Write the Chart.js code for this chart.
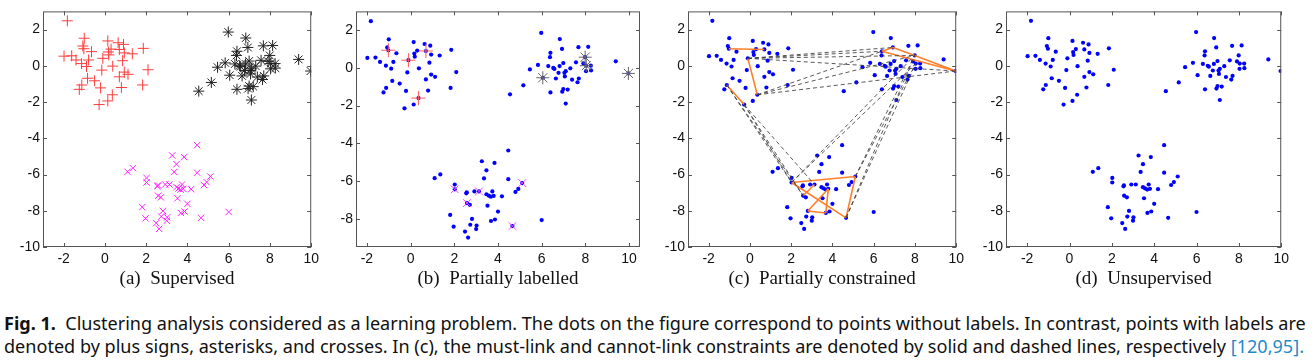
<!DOCTYPE html>
<html>
<head>
<meta charset="utf-8">
<script src="https://cdn.jsdelivr.net/npm/chart.js@4.4.0/dist/chart.umd.min.js"></script>
<style>
  body { margin: 0; background: #fff; width: 1314px; height: 363px; overflow: hidden; position: relative; }
  .panel { position: absolute; top: 0; height: 292px; }
  .cap { position: absolute; left: 4px; white-space: nowrap; font-family: 'Noto Sans', sans-serif; font-size: 17.5px; line-height: 22px; color: #111; transform-origin: 0 0; }
  .cap b { font-weight: 700; }
  .ref { color: #1f8ac8; }
</style>
</head>
<body>
<div class="panel" style="left:0;width:323px"><canvas id="chartA"></canvas></div>
<div class="panel" style="left:320px;width:330px"><canvas id="chartB"></canvas></div>
<div class="panel" style="left:650px;width:318px"><canvas id="chartC"></canvas></div>
<div class="panel" style="left:970px;width:323px"><canvas id="chartD"></canvas></div>
<div class="cap" id="line1" style="top:312px"><b>Fig. 1.</b>&nbsp; Clustering analysis considered as a learning problem. The dots on the figure correspond to points without labels. In contrast, points with labels are</div>
<div class="cap" id="line2" style="top:335px">denoted by plus signs, asterisks, and crosses. In (c), the must-link and cannot-link constraints are denoted by solid and dashed lines, respectively <span class="ref">[120,95].</span></div>
<script>
// cluster 1 (plus signs in a)
const c1x = [-1.82, -1.00, 0.14, 0.64, 0.90, -1.07, -1.02, 0.30, 0.70, 1.86, -0.65, 0.17, 0.94, 1.33, 0.19, -1.98, -1.61, -0.10, -1.40, -0.79,
             0.86, -1.13, -0.89, 0.38, -0.15, 2.09, 0.94, 1.12, 0.70, -0.84, -0.50, 1.83, -1.12, -1.24, -0.21, 0.80, 0.36, 0.14, -0.28];
const c1y = [2.48, 1.52, 1.37, 1.27, 1.18, 1.09, 0.94, 0.92, 0.90, 0.96, 0.78, 0.76, 0.71, 0.66, 0.60, 0.53, 0.55, 0.41, 0.32, 0.32,
             0.28, 0.12, -0.04, -0.02, -0.24, -0.22, -0.35, -0.47, -0.61, -0.69, -0.83, -1.06, -1.06, -1.30, -1.22, -1.20, -1.60, -1.94, -2.14];
// cluster 2 (asterisks in a)
const c2x = [5.98, 6.83, 6.93, 7.68, 8.13, 6.40, 6.38, 7.99, 9.39, 7.57, 5.83, 6.99, 7.91, 8.04, 8.25, 6.30, 6.82, 5.46, 6.53, 6.58,
             7.31, 8.26, 8.03, 7.10, 7.04, 6.77, 5.16, 7.70, 7.39, 6.65, 7.06, 7.64, 9.97, 4.55, 6.40, 6.99, 7.19, 6.94, 7.10, 6.05];
const c2y = [1.86, 1.53, 1.01, 1.10, 1.12, 0.80, 0.57, 0.57, 0.35, 0.30, 0.16, 0.26, 0.24, 0.12, 0.12, 0.10, 0.10, -0.08, 0.00, -0.05,
             -0.02, -0.13, -0.17, -0.17, -0.26, -0.26, -0.92, -0.56, -0.62, -0.56, -0.45, -0.76, -0.29, -1.40, -1.30, -1.12, -1.15, -1.26, -1.89, -0.52];
// cluster 3 (crosses in a)
const c3x = [4.47, 3.26, 3.84, 3.47, 1.36, 1.10, 3.36, 4.47, 5.11, 2.02, 2.02, 4.93, 4.80, 2.57, 2.55, 2.92, 3.13, 3.74, 3.47, 3.57,
             3.67, 3.80, 4.18, 2.58, 2.71, 3.52, 4.00, 1.81, 2.81, 3.86, 3.68, 6.00, 2.73, 3.02, 4.66, 1.97, 3.00, 2.49, 2.63];
const c3y = [-4.38, -4.95, -5.04, -5.43, -5.65, -5.85, -5.86, -5.90, -6.11, -6.19, -6.44, -6.42, -6.58, -6.60, -6.65, -6.55, -6.55, -6.55, -6.70, -6.77,
             -6.83, -6.79, -6.81, -7.17, -7.26, -7.31, -7.62, -7.80, -8.01, -8.04, -8.12, -8.07, -8.32, -8.36, -8.39, -8.42, -8.55, -8.68, -9.00];

// labelled points in (b), as indices into each cluster
const labelled1 = [6, 8, 17, 36];
const labelled2 = [39, 7, 13, 32];
const labelled3 = [10, 16, 23, 8, 34];

// constraints in (c): [cluster, index, cluster, index]
const mustLinks = [
  [1, 6, 1, 8], [1, 17, 1, 36], [1, 32, 1, 38],
  [2, 5, 2, 2], [2, 2, 2, 7], [2, 7, 2, 32], [2, 5, 2, 32],
  [3, 10, 3, 8], [3, 8, 3, 34], [3, 10, 3, 34], [3, 21, 3, 28], [3, 28, 3, 30], [3, 30, 3, 21], [3, 16, 3, 23]
];
const cannotLinks = [
  [1, 17, 2, 5], [1, 17, 2, 2], [1, 17, 2, 7], [1, 17, 2, 32],
  [1, 36, 2, 5], [1, 36, 2, 7], [1, 36, 2, 32],
  [1, 32, 3, 10], [1, 32, 3, 23], [1, 38, 3, 10], [1, 38, 3, 16], [1, 38, 3, 23],
  [3, 10, 2, 7], [3, 10, 2, 13], [3, 8, 2, 7], [3, 8, 2, 13], [3, 34, 2, 7], [3, 34, 2, 13]
];

const xTicks  = [-2, 0, 2, 4, 6, 8, 10];
const yTicks  = [2, 0, -2, -4, -6, -8, -10];
const yTicksB = [2, 0, -2, -4, -6, -8];
const captions = ['(a)  Supervised', '(b)  Partially labelled', '(c)  Partially constrained', '(d)  Unsupervised'];

const XS = [null, c1x, c2x, c3x];
const YS = [null, c1y, c2y, c3y];
const pt = (c, i) => ({ x: XS[c][i], y: YS[c][i] });
const cluster = c => XS[c].map((x, i) => pt(c, i));
const allPoints = () => [1, 2, 3].flatMap(cluster);

// unlabelled dots sit underneath everything else (higher order = drawn first)
const dots = () => ({
  data: allPoints(), pointStyle: 'circle', pointRadius: 2.1, order: 10,
  backgroundColor: '#0000ff', borderWidth: 0, pointBorderWidth: 0
});
const markers = (data, style, color, r, w) => ({
  data, pointStyle: style, pointRadius: r, borderColor: color, order: 1,
  backgroundColor: color, pointBorderWidth: w || 1
});

// MATLAB style box with inward ticks
const boxPlugin = {
  id: 'box',
  afterDraw(chart) {
    const { ctx, chartArea: a, scales: { x, y } } = chart;
    const seg = (x1, y1, x2, y2) => { ctx.beginPath(); ctx.moveTo(x1, y1); ctx.lineTo(x2, y2); ctx.stroke(); };
    ctx.save();
    ctx.strokeStyle = '#555';
    ctx.lineWidth = 1;
    ctx.strokeRect(a.left + 0.5, a.top + 0.5, a.right - a.left - 1, a.bottom - a.top - 1);
    x.ticks.forEach(t => {
      const p = Math.round(x.getPixelForValue(t.value)) + 0.5;
      seg(p, a.bottom, p, a.bottom - 4);
      seg(p, a.top, p, a.top + 4);
    });
    y.ticks.forEach(t => {
      const p = Math.round(y.getPixelForValue(t.value)) + 0.5;
      seg(a.left, p, a.left + 4, p);
      seg(a.right, p, a.right - 4, p);
    });
    ctx.restore();
  }
};

function makePanel(id, datasets, opts) {
  return new Chart(document.getElementById(id), {
    type: 'scatter',
    data: { datasets },
    options: {
      responsive: true,
      maintainAspectRatio: false,
      animation: false,
      layout: { padding: { top: 5, right: opts.right, left: 0, bottom: 0 } },
      plugins: { legend: { display: false }, tooltip: { enabled: false } },
      scales: {
        x: {
          type: 'linear', min: opts.xmin, max: opts.xmax,
          grid: { display: false, drawTicks: false }, border: { display: false },
          afterBuildTicks: s => { s.ticks = xTicks.map(v => ({ value: v })); },
          afterFit: s => { s.height = 45; },
          ticks: { color: '#111', padding: 4, maxRotation: 0, autoSkip: false,
                   font: { family: 'Liberation Sans', size: 14 }, callback: v => String(v) },
          title: { display: true, text: opts.caption, color: '#111',
                   font: { family: 'Liberation Serif', size: 19 }, padding: { top: 0, bottom: 2 } }
        },
        y: {
          type: 'linear', min: opts.ymin, max: opts.ymax,
          grid: { display: false, drawTicks: false }, border: { display: false },
          afterBuildTicks: s => { s.ticks = opts.yTicks.map(v => ({ value: v })); },
          afterFit: s => { s.width = opts.yw; },
          ticks: { color: '#111', padding: 3, autoSkip: false,
                   font: { family: 'Liberation Sans', size: 14 }, callback: v => String(v) }
        }
      }
    },
    plugins: [boxPlugin]
  });
}

const full = { xmin: -3, xmax: 10, ymin: -10, ymax: 3, yTicks: yTicks, right: 10 };

makePanel('chartA', [
  markers(cluster(1), 'cross', '#ff3b3b', 5.5),
  markers(cluster(2), 'star', '#222222', 5.5),
  markers(cluster(3), 'crossRot', '#ff22ff', 4.5)
], Object.assign({}, full, { yw: 43, caption: captions[0] }));

makePanel('chartB', [
  dots(),
  markers(labelled1.map(i => pt(1, i)), 'cross', '#ff5a5a', 7),
  markers(labelled2.map(i => pt(2, i)), 'star', '#666666', 6.5),
  markers(labelled3.map(i => pt(3, i)), 'crossRot', '#ff44ff', 5.5)
], { xmin: -2.5, xmax: 10.5, ymin: -9.5, ymax: 3, yTicks: yTicksB, right: 10, yw: 36, caption: captions[1] });

const link = (l, color, dash, w) => ({
  type: 'line', data: [pt(l[0], l[1]), pt(l[2], l[3])], showLine: true, order: 1,
  borderColor: color, borderWidth: w, borderDash: dash, pointRadius: 0, fill: false
});

makePanel('chartC', [
  dots(),
  ...cannotLinks.map(l => link(l, 'rgba(60,60,60,0.85)', [4, 3], 1)),
  ...mustLinks.map(l => link(l, '#ff7f2a', [], 1.6))
], Object.assign({}, full, { yw: 38, caption: captions[2] }));

makePanel('chartD', [dots()], Object.assign({}, full, { yw: 36, caption: captions[3] }));

// stretch caption lines to the full justified width
function fitLine(id, target) {
  const el = document.getElementById(id);
  el.style.transform = 'scaleX(' + (target / el.scrollWidth) + ')';
}
document.fonts.ready.then(() => { fitLine('line1', 1302); fitLine('line2', 1300); });
</script>
</body>
</html>
